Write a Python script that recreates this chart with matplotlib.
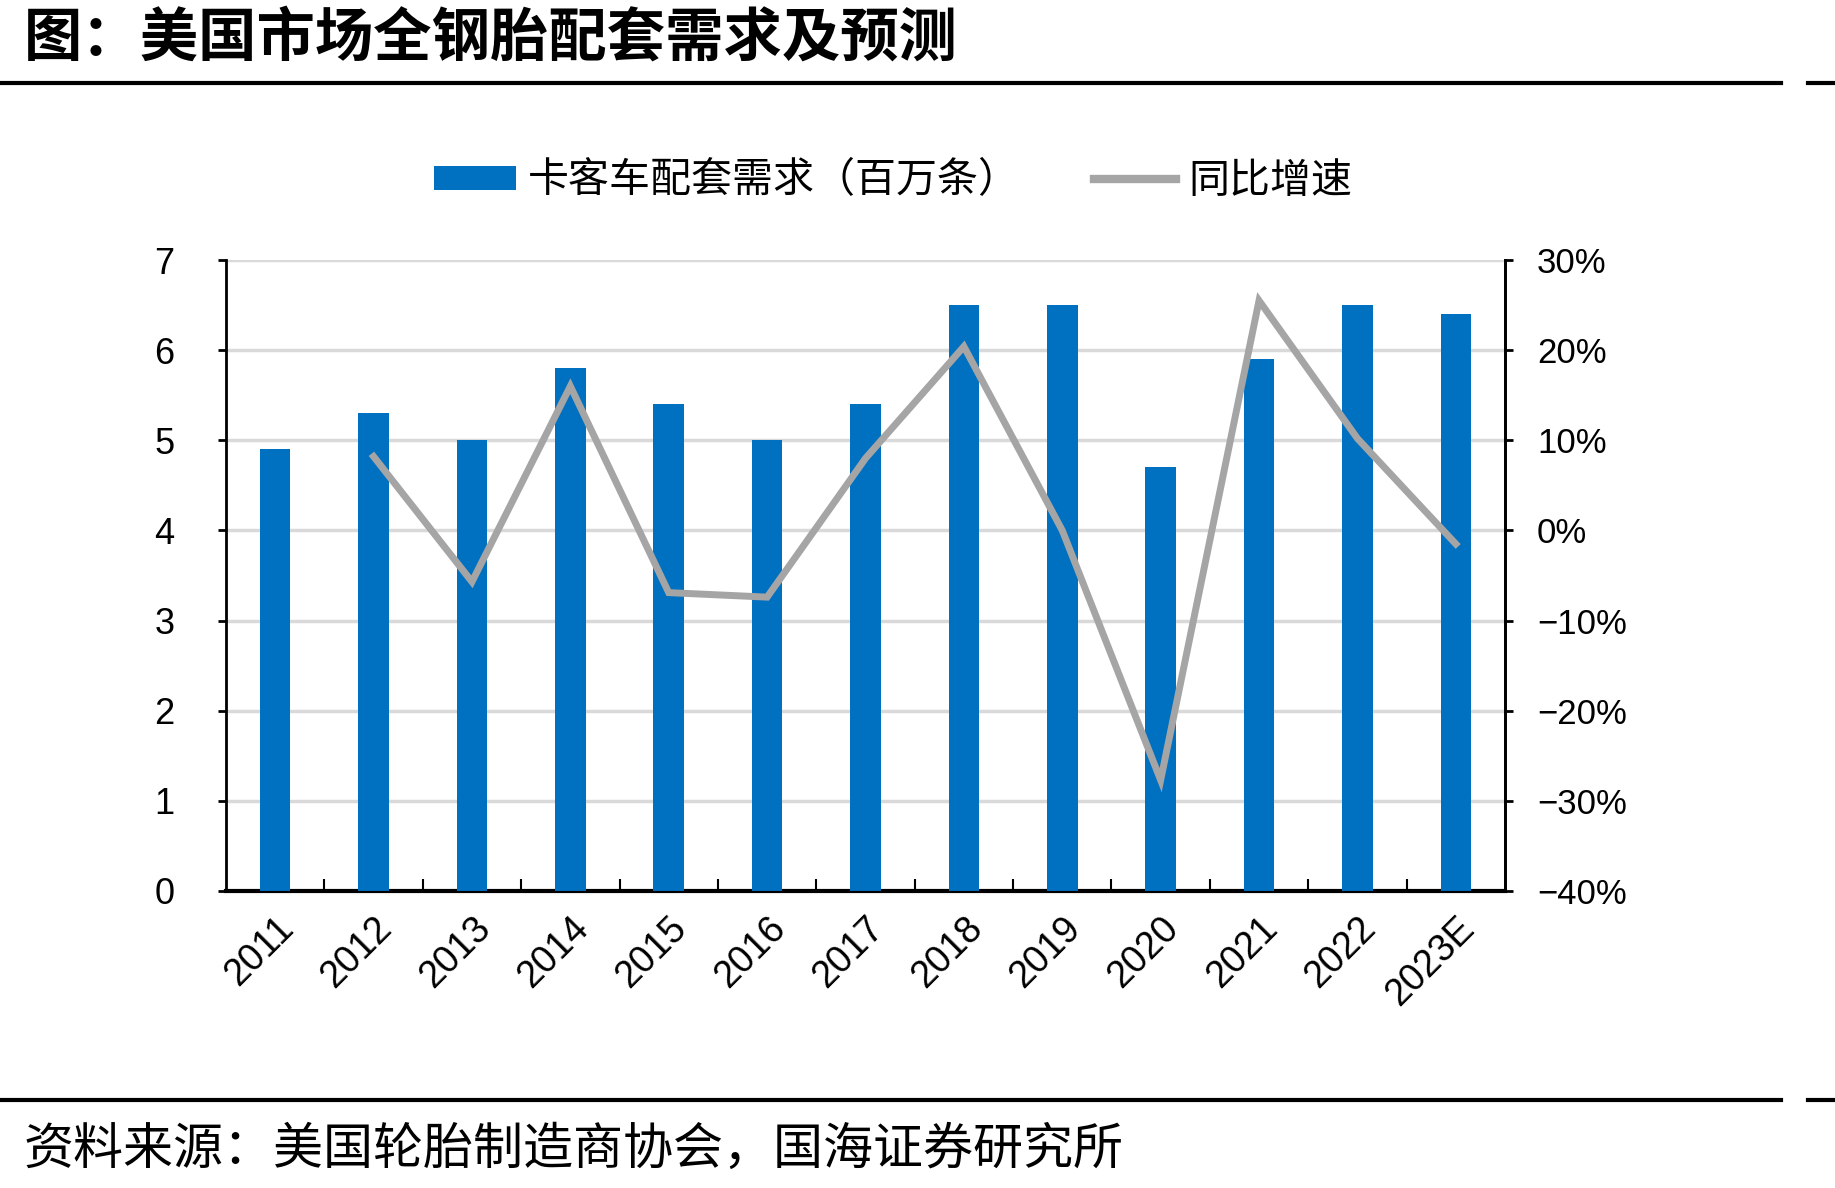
import matplotlib
matplotlib.use("Agg")
import matplotlib.pyplot as plt
from matplotlib.lines import Line2D
from matplotlib.patches import Patch

plt.rcParams['font.family'] = ['Noto Sans CJK SC', 'DejaVu Sans']

years = ['2011', '2012', '2013', '2014', '2015', '2016', '2017', '2018',
         '2019', '2020', '2021', '2022', '2023E']
demand = [4.9, 5.3, 5.0, 5.8, 5.4, 5.0, 5.4, 6.5, 6.5, 4.7, 5.9, 6.5, 6.4]
growth_years = years[1:]
growth = [8.2, -5.7, 16.0, -6.9, -7.4, 8.0, 20.4, 0.0, -27.7, 25.5, 10.2, -1.5]
left_ticks = [0, 1, 2, 3, 4, 5, 6, 7]
right_ticks = [-40, -30, -20, -10, 0, 10, 20, 30]

title = '图：美国市场全钢胎配套需求及预测'
source = '资料来源：美国轮胎制造商协会，国海证券研究所'
bar_label = '卡客车配套需求（百万条）'
line_label = '同比增速'

W, H = 1835, 1188
fig = plt.figure(figsize=(W / 100, H / 100), dpi=100)

ax = fig.add_axes([226 / W, 1 - 891 / H, (1505 - 226) / W, (891 - 260) / H])
x = list(range(len(years)))
ax.bar(x, demand, width=0.31, color='#0070C0', zorder=3)
ax.set_xlim(-0.5, len(years) - 0.5)
ax.set_ylim(0, 7)
ax.set_yticks(left_ticks)
ax.set_yticklabels([str(t) for t in left_ticks], fontfamily='Liberation Sans', fontsize=26)
ax.grid(axis='y', color='#D9D9D9', linewidth=2.5, zorder=0)
ax.set_xticks(x)
ax.set_xticklabels(years, rotation=45, ha='right', rotation_mode='anchor',
                   fontfamily='Liberation Sans', fontsize=27)
ax.tick_params(axis='x', length=0, pad=14)
ax.set_xticks([i + 0.5 for i in x[:-1]], minor=True)
ax.tick_params(axis='x', which='minor', direction='in', length=9, width=1.5)
ax.tick_params(axis='y', direction='out', length=6, width=2, pad=31)
ax.spines['top'].set_visible(False)
ax.spines['left'].set_linewidth(2)
ax.spines['right'].set_linewidth(2)
ax.spines['bottom'].set_linewidth(3)

ax2 = ax.twinx()
gx = [years.index(y) for y in growth_years]
ax2.plot(gx, growth, color='#A5A5A5', linewidth=5, zorder=4, solid_joinstyle='miter')
ax2.set_ylim(-40, 30)
ax2.set_yticks(right_ticks)
ax2.set_yticklabels([f'{t}%'.replace('-', '−') for t in right_ticks],
                    fontfamily='Liberation Sans', fontsize=25)
ax2.tick_params(axis='y', direction='out', length=6, width=2, pad=17)
ax2.spines['top'].set_visible(False)
ax2.spines['right'].set_linewidth(2)

handles = [Patch(facecolor='#0070C0', edgecolor='none'),
           Line2D([0], [0], color='#A5A5A5', linewidth=6)]
fig.legend(handles, [bar_label, line_label], loc='center',
           bbox_to_anchor=(893 / W, 1 - 181 / H), ncol=2, frameon=False,
           fontsize=29.5, handlelength=2.0, handleheight=0.55, columnspacing=1.8,
           handletextpad=0.3)

fig.text(24 / W, 1 - 39 / H, title, fontsize=42, fontweight='bold', va='center', ha='left')
fig.text(24 / W, 1 - 1150 / H, source, fontsize=36, va='center', ha='left')

for yy in [83, 1100]:
    fig.add_artist(Line2D([0, 1781 / W], [1 - yy / H, 1 - yy / H], color='black', linewidth=3,
                          transform=fig.transFigure))
    fig.add_artist(Line2D([1808 / W, 1], [1 - yy / H, 1 - yy / H], color='black', linewidth=3,
                          transform=fig.transFigure))

fig.savefig('out.png', dpi=100)
